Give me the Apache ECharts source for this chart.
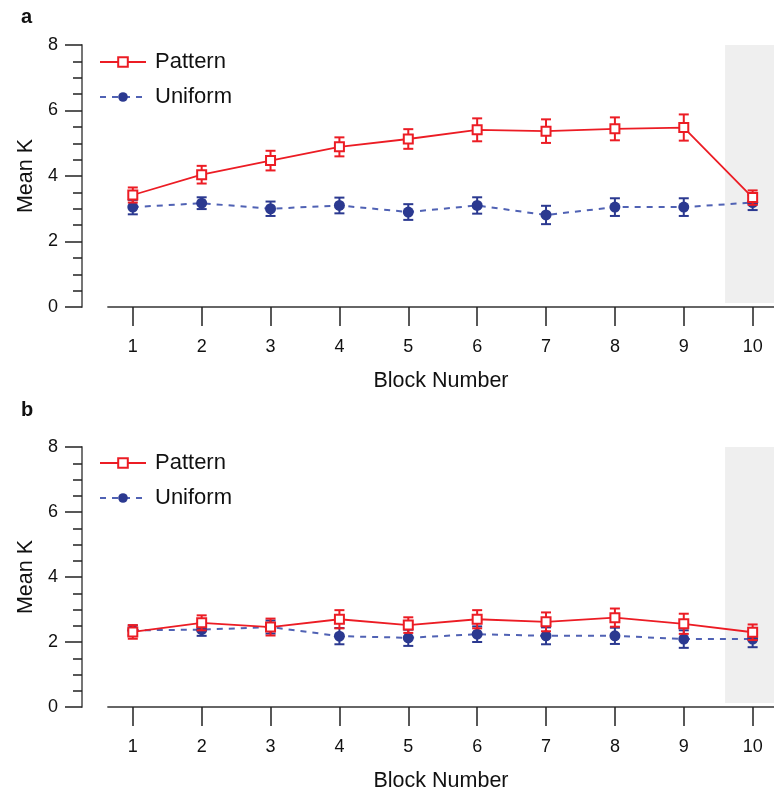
<!DOCTYPE html>
<html>
<head>
<meta charset="utf-8">
<script src="https://cdn.jsdelivr.net/npm/echarts@6/dist/echarts.min.js"></script>
<style>html,body{margin:0;padding:0;background:#fff}#c{width:774px;height:793px}</style>
</head>
<body>
<div id="c"></div>
<script>
const blocks = [1, 2, 3, 4, 5, 6, 7, 8, 9, 10];
const yTicks = [0, 2, 4, 6, 8];
const patternA = [3.42, 4.04, 4.47, 4.89, 5.13, 5.41, 5.37, 5.44, 5.48, 3.34];
const patternAErr = [0.23, 0.27, 0.30, 0.29, 0.30, 0.35, 0.36, 0.35, 0.40, 0.22];
const uniformA = [3.05, 3.17, 3.00, 3.10, 2.90, 3.10, 2.81, 3.05, 3.05, 3.19];
const uniformAErr = [0.22, 0.18, 0.22, 0.24, 0.24, 0.25, 0.28, 0.27, 0.27, 0.23];
const patternB = [2.31, 2.59, 2.46, 2.70, 2.52, 2.70, 2.62, 2.75, 2.56, 2.30];
const patternBErr = [0.21, 0.23, 0.26, 0.28, 0.24, 0.28, 0.29, 0.28, 0.31, 0.24];
const uniformB = [2.36, 2.38, 2.46, 2.18, 2.13, 2.24, 2.19, 2.19, 2.09, 2.09];
const uniformBErr = [0.15, 0.19, 0.20, 0.25, 0.25, 0.24, 0.26, 0.25, 0.27, 0.25];
const shadeFrom = 9.6;
const xMin = 0.64, xMax = 10.31;

const RED = '#ec1c24';
const NAVY = '#2b3990';
const DASH = '#5062b4';
const FONT = 'Liberation Sans, Arial, sans-serif';

function pts(vals) { return blocks.map((b, i) => [b, vals[i]]); }
function errPts(vals, errs) { return blocks.map((b, i) => [b, vals[i], errs[i]]); }

function errSeries(idx, vals, errs, color, z) {
  return {
    type: 'custom', xAxisIndex: idx, yAxisIndex: idx, z: z, silent: true,
    data: errPts(vals, errs),
    encode: { x: 0, y: 1 },
    renderItem: function (params, api) {
      const x = api.value(0), y = api.value(1), e = api.value(2);
      const top = api.coord([x, y + e]);
      const bot = api.coord([x, y - e]);
      const w = 5;
      const st = { stroke: color, lineWidth: 2 };
      return {
        type: 'group', children: [
          { type: 'line', shape: { x1: top[0], y1: top[1], x2: bot[0], y2: bot[1] }, style: st },
          { type: 'line', shape: { x1: top[0] - w, y1: top[1], x2: top[0] + w, y2: top[1] }, style: st },
          { type: 'line', shape: { x1: bot[0] - w, y1: bot[1], x2: bot[0] + w, y2: bot[1] }, style: st }
        ]
      };
    }
  };
}

function xAx(idx) {
  return {
    type: 'value', gridIndex: idx, min: xMin, max: xMax,
    axisLine: { show: true, lineStyle: { color: '#666', width: 1.8 } },
    axisTick: { show: true, length: 19, customValues: blocks, lineStyle: { color: '#222', width: 1.5 } },
    axisLabel: { customValues: blocks, margin: 31, color: '#111', fontSize: 18, fontFamily: FONT },
    splitLine: { show: false },
    name: 'Block Number', nameLocation: 'middle', nameGap: 63,
    nameTextStyle: { color: '#111', fontSize: 21.5, fontFamily: FONT }
  };
}
function yAx(idx) {
  return {
    type: 'value', gridIndex: idx, min: yTicks[0], max: yTicks[yTicks.length - 1], interval: 2, offset: 26,
    axisLine: { show: true, lineStyle: { color: '#666', width: 1.8 } },
    axisTick: { show: true, length: 17, lineStyle: { color: '#222', width: 1.5 } },
    minorTick: { show: true, splitNumber: 4, length: 9, lineStyle: { color: '#222', width: 1.5 } },
    axisLabel: { margin: 24, color: '#111', fontSize: 18, fontFamily: FONT },
    splitLine: { show: false },
    name: 'Mean K', nameLocation: 'middle', nameGap: 45, nameRotate: 90,
    nameTextStyle: { color: '#111', fontSize: 21.5, fontFamily: FONT }
  };
}
function lineSeries(idx, name, vals, kind) {
  const isP = kind === 'p';
  const s = {
    type: 'line', name: name, xAxisIndex: idx, yAxisIndex: idx,
    data: pts(vals),
    z: isP ? 5 : 3,
    symbol: isP ? 'rect' : 'circle',
    symbolSize: isP ? 9 : 11,
    showAllSymbol: true,
    lineStyle: isP ? { color: RED, width: 1.8 } : { color: DASH, width: 2, type: [6, 6] },
    itemStyle: isP ? { color: '#fff', borderColor: RED, borderWidth: 2 } : { color: NAVY, borderColor: NAVY, borderWidth: 0 },
    emphasis: { disabled: true },
    silent: true
  };
  if (isP) {
    s.markArea = {
      silent: true, z: 0,
      itemStyle: { color: '#efefef' },
      data: [[{ coord: [shadeFrom, 0.12] }, { coord: [xMax, 8.03] }]]
    };
  }
  return s;
}
function legend(idx, top) {
  return {
    orient: 'vertical', left: 94, top: top, itemWidth: 46, itemHeight: 12, itemGap: 13,
    data: ['Pattern', 'Uniform'],
    textStyle: { fontSize: 22, color: '#111', fontFamily: FONT, padding: [0, 0, 0, 4] },
    selectedMode: false
  };
}

const chart = echarts.init(document.getElementById('c'));
chart.setOption({
  animation: false,
  backgroundColor: '#fff',
  grid: [
    { left: 108, right: 0, top: 45, height: 262 },
    { left: 108, right: 0, top: 447, height: 262 }
  ],
  xAxis: [xAx(0), xAx(1)],
  yAxis: [yAx(0), yAx(1)],
  legend: [legend(0, 46), legend(1, 447)],
  graphic: [
    { type: 'text', left: 21, top: 7, style: { text: 'a', fontSize: 20, fontWeight: 'bold', fill: '#111', fontFamily: FONT } },
    { type: 'text', left: 21, top: 400, style: { text: 'b', fontSize: 20, fontWeight: 'bold', fill: '#111', fontFamily: FONT } }
  ],
  series: [
    errSeries(0, uniformA, uniformAErr, NAVY, 2),
    lineSeries(0, 'Uniform', uniformA, 'u'),
    errSeries(0, patternA, patternAErr, RED, 4),
    lineSeries(0, 'Pattern', patternA, 'p'),
    errSeries(1, uniformB, uniformBErr, NAVY, 2),
    lineSeries(1, 'Uniform', uniformB, 'u'),
    errSeries(1, patternB, patternBErr, RED, 4),
    lineSeries(1, 'Pattern', patternB, 'p')
  ]
});
</script>
</body>
</html>
